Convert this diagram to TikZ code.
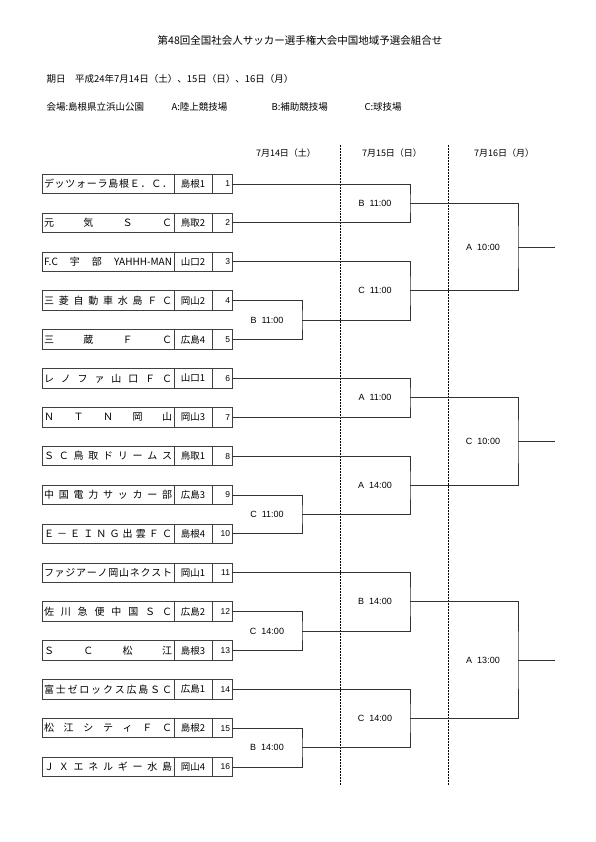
\documentclass[tikz,border=0pt]{standalone}
\usepackage{fontspec}
\setmainfont{Noto Sans CJK JP}
\newfontfamily\latinfont{Liberation Sans}
\usetikzlibrary{calc, positioning}
\colorlet{boxline}{black!75}
\colorlet{bracketline}{black!80}

\ExplSyntaxOn
\cs_generate_variant:Nn \seq_set_split:Nnn { NnV }
\NewDocumentCommand \spreadname { m }
  {
    \seq_set_split:NnV \l_tmpa_seq { ~ } #1
    \seq_use:Nn \l_tmpa_seq { \hfill }
  }
\ExplSyntaxOff

% one match: top entry, bottom entry, column, name, time
\newcommand\matchup[5]{%
  \coordinate (#4mid) at ($(#1)!.5!(#2)$);
  \coordinate (#4) at (#4mid -| #3);
  \draw[bracket] (#1) -| (#4) |- (#2);
  \node[timelabel] (#4lbl) at ([xshift=-35pt]#4) {#5};
}

\begin{document}
\begin{tikzpicture}[x=1pt, y=-1pt,
  namecell/.style={draw=boxline, line width=0.9pt, outer sep=0pt, minimum height=19.5pt,
    inner xsep=2pt, inner ysep=0pt, anchor=west, font=\fontsize{10}{12}\selectfont},
  prefcell/.style={draw=boxline, line width=0.9pt, outer sep=0pt, minimum height=19.5pt,
    minimum width=38pt, inner sep=0pt, font=\fontsize{9.5}{12}\selectfont},
  numcell/.style={draw=boxline, line width=0.9pt, outer sep=0pt, minimum height=19.5pt,
    text width=16pt, inner xsep=2pt, inner ysep=0pt, align=right,
    font=\latinfont\fontsize{8.5}{10}\selectfont},
  bracket/.style={draw=bracketline, line width=0.8pt},
  timelabel/.style={font=\latinfont\fontsize{9}{11}\selectfont},
  dayhead/.style={font=\fontsize{9}{11}\selectfont},
  infotext/.style={anchor=west, font=\fontsize{9.5}{11}\selectfont},
  daysep/.style={dash pattern=on 0.5pt off 1pt, line width=0.4pt},
]
  \useasboundingbox (0,0) rectangle (595,842);

  % headings
  \node[font=\fontsize{10.5}{12}\selectfont] (title) at (300,41) {第48回全国社会人サッカー選手権大会中国地域予選会組合せ};
  \node[infotext] (date) at (43,79) {期日　平成24年7月14日（土）、15日（日）、16日（月）};
  \node[infotext] (venue) at (43,107) {会場:島根県立浜山公園};
  \node[infotext] (fielda) at (168,107) {A:陸上競技場};
  \node[infotext] (fieldb) at (268,107) {B:補助競技場};
  \node[infotext] (fieldc) at (361,107) {C:球技場};
  \node[dayhead] (day1) at (286,153) {7月14日（土）};
  \node[dayhead] (day2) at (392,153) {7月15日（日）};
  \node[dayhead] (day3) at (504,153) {7月16日（月）};
  \draw[daysep] (340,145) -- (340,785);
  \draw[daysep] (448,145) -- (448,785);

  % teams
  \foreach \i/\nm/\pf in {
    1/デ ッ ツ ォ ー ラ 島 根 Ｅ ． Ｃ ．/島根1,
    2/元 気 Ｓ Ｃ/鳥取2,
    3/F.C 宇 部 YAHHH-MAN/山口2,
    4/三 菱 自 動 車 水 島 Ｆ Ｃ/岡山2,
    5/三 蔵 Ｆ Ｃ/広島4,
    6/レ ノ フ ァ 山 口 Ｆ Ｃ/山口1,
    7/Ｎ Ｔ Ｎ 岡 山/岡山3,
    8/Ｓ Ｃ 鳥 取 ド リ ー ム ス/鳥取1,
    9/中 国 電 力 サ ッ カ ー 部/広島3,
    10/Ｅ － Ｅ Ｉ Ｎ Ｇ 出 雲 Ｆ Ｃ/島根4,
    11/フ ァ ジ ア ー ノ 岡 山 ネ ク ス ト/岡山1,
    12/佐 川 急 便 中 国 Ｓ Ｃ/広島2,
    13/Ｓ Ｃ 松 江/島根3,
    14/富 士 ゼ ロ ッ ク ス 広 島 Ｓ Ｃ/広島1,
    15/松 江 シ テ ィ Ｆ Ｃ/島根2,
    16/Ｊ Ｘ エ ネ ル ギ ー 水 島/岡山4}{
    \node[namecell] (n\i) at (42,{184+38.87*(\i-1)}) {\makebox[128pt]{\spreadname{\nm}}};
    \node[prefcell, right=0pt of n\i] (p\i) {\pf};
    \node[numcell, right=0pt of p\i] (t\i) {\i};
  }

  % columns of the bracket
  \coordinate (r1) at (302,0);
  \coordinate (r2) at (410,0);
  \coordinate (r3) at (518,0);
  \coordinate (fin) at (555,0);

  % 7/14
  \matchup{t4.east}{t5.east}{r1}{m45}{B\ \ 11:00}
  \matchup{t9.east}{t10.east}{r1}{m910}{C\ \ 11:00}
  \matchup{t12.east}{t13.east}{r1}{m1213}{C\ \ 14:00}
  \matchup{t15.east}{t16.east}{r1}{m1516}{B\ \ 14:00}
  % 7/15
  \matchup{t1.east}{t2.east}{r2}{m12}{B\ \ 11:00}
  \matchup{t3.east}{m45}{r2}{m35}{C\ \ 11:00}
  \matchup{t6.east}{t7.east}{r2}{m67}{A\ \ 11:00}
  \matchup{t8.east}{m910}{r2}{m810}{A\ \ 14:00}
  \matchup{t11.east}{m1213}{r2}{m1113}{B\ \ 14:00}
  \matchup{t14.east}{m1516}{r2}{m1416}{C\ \ 14:00}
  % 7/16
  \matchup{m12}{m35}{r3}{m15}{A\ \ 10:00}
  \matchup{m67}{m810}{r3}{m610}{C\ \ 10:00}
  \matchup{m1113}{m1416}{r3}{m1116}{A\ \ 13:00}
  \draw[bracket] (m15) -- (m15 -| fin);
  \draw[bracket] (m610) -- (m610 -| fin);
  \draw[bracket] (m1116) -- (m1116 -| fin);
\end{tikzpicture}
\end{document}
